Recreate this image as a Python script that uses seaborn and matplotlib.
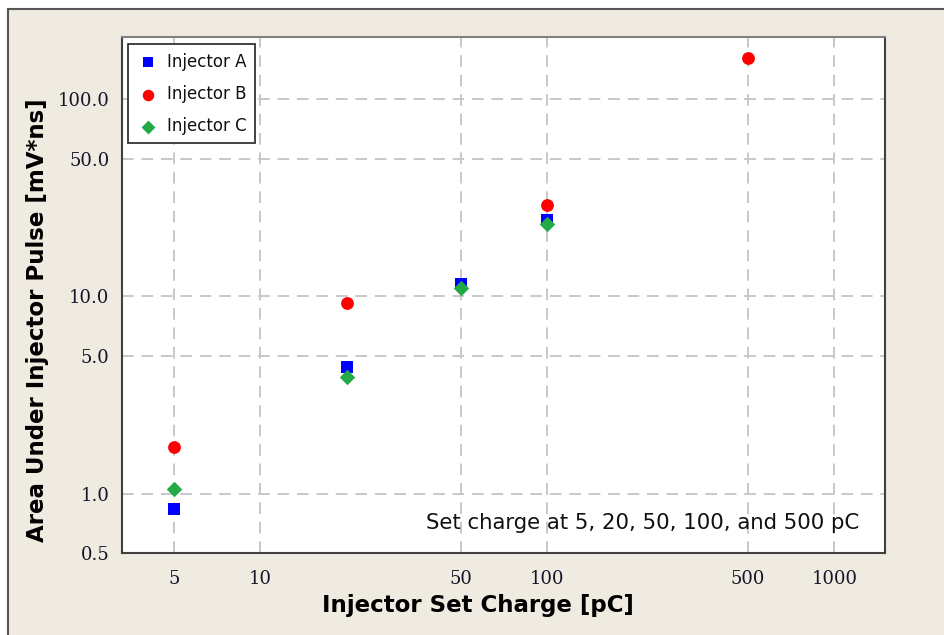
import matplotlib
matplotlib.use("Agg")
import matplotlib.pyplot as plt
import seaborn as sns
import pandas as pd
from matplotlib.patches import Rectangle
from matplotlib.ticker import FixedLocator, FixedFormatter, NullLocator

# ---- data ----
charge_a = [5, 20, 50, 100]
area_a = [0.84, 4.4, 11.6, 24.3]
charge_b = [5, 20, 100, 500]
area_b = [1.72, 9.3, 29.0, 162.0]
charge_c = [5, 20, 50, 100]
area_c = [1.06, 3.92, 11.1, 23.4]

x_ticks = [5, 10, 50, 100, 500, 1000]
x_tick_labels = ["5", "10", "50", "100", "500", "1000"]
y_ticks = [0.5, 1.0, 5.0, 10.0, 50.0, 100.0]
y_tick_labels = ["0.5", "1.0", "5.0", "10.0", "50.0", "100.0"]

df = pd.concat([
    pd.DataFrame({"charge": charge_a, "area": area_a, "series": "Injector A"}),
    pd.DataFrame({"charge": charge_b, "area": area_b, "series": "Injector B"}),
    pd.DataFrame({"charge": charge_c, "area": area_c, "series": "Injector C"}),
], ignore_index=True)

bg = "#EFEBE1"
sns.set_theme(style="white")
plt.rcParams["font.family"] = ["DejaVu Sans"]

fig = plt.figure(figsize=(9.45, 6.35), dpi=100, facecolor="white")
W, H = 945, 635
fig.patches.append(Rectangle((8 / W, -0.01), 1.0, (H - 9) / H + 0.01,
                             transform=fig.transFigure, facecolor=bg,
                             edgecolor="#555555", linewidth=1.5, zorder=-10))

ax = fig.add_axes([122 / W, (H - 553) / H, (885 - 122) / W, (553 - 37) / H])
ax.set_facecolor("white")

palette = {"Injector A": "#0000FF", "Injector B": "#FF0000", "Injector C": "#22AA44"}
markers = {"Injector A": "s", "Injector B": "o", "Injector C": "D"}
sizes = {"Injector A": 75, "Injector B": 85, "Injector C": 62}

for name in ["Injector A", "Injector B", "Injector C"]:
    sub = df[df["series"] == name]
    sns.scatterplot(data=sub, x="charge", y="area", ax=ax, color=palette[name],
                    marker=markers[name], s=sizes[name], linewidth=0,
                    label=name, zorder=3)

ax.set_xscale("log")
ax.set_yscale("log")
ax.set_xlim(3.3, 1500)
ax.set_ylim(0.5, 207)

ax.xaxis.set_major_locator(FixedLocator(x_ticks))
ax.xaxis.set_major_formatter(FixedFormatter(x_tick_labels))
ax.xaxis.set_minor_locator(NullLocator())
ax.yaxis.set_major_locator(FixedLocator(y_ticks))
ax.yaxis.set_major_formatter(FixedFormatter(y_tick_labels))
ax.yaxis.set_minor_locator(NullLocator())

ax.grid(True, which="major", color="#C8C8C8", linestyle=(0, (6, 4)), linewidth=1.4)
ax.set_axisbelow(True)

ax.tick_params(axis="both", which="major", direction="out", length=5, width=1.2,
               color="#404040", labelsize=13, labelcolor="#15152A", pad=4)
ax.tick_params(axis="x", pad=7)
for lab in ax.get_xticklabels() + ax.get_yticklabels():
    lab.set_family("DejaVu Serif")

for sp in ax.spines.values():
    sp.set_color("#404040")
    sp.set_linewidth(1.5)
    sp.set_visible(True)
ax.spines["top"].set_color("#808080")

ax.set_xlabel("Injector Set Charge [pC]", fontsize=16.5, fontweight="bold", color="black")
ax.set_ylabel("Area Under Injector Pulse [mV*ns]", fontsize=16.5, fontweight="bold", color="black")
ax.xaxis.set_label_coords(0.4666, -0.080)
ax.yaxis.set_label_coords(-0.096, 0.4506)

ax.text(0.966, 0.058, "Set charge at 5, 20, 50, 100, and 500 pC", transform=ax.transAxes,
        ha="right", va="center", fontsize=15.3, family="DejaVu Sans", color="#111111")

leg = ax.legend(loc="upper left", bbox_to_anchor=(0.004, 0.992), frameon=True,
                fancybox=False, shadow=False, fontsize=12, labelspacing=0.85,
                handletextpad=0.5, borderpad=0.5, handlelength=1.3,
                borderaxespad=0.2, markerscale=0.9)
leg.get_frame().set_edgecolor("#333333")
leg.get_frame().set_linewidth(1.3)
leg.get_frame().set_alpha(1.0)
for t in leg.get_texts():
    t.set_color("#111111")

fig.savefig("out.png", dpi=100, facecolor=fig.get_facecolor())
